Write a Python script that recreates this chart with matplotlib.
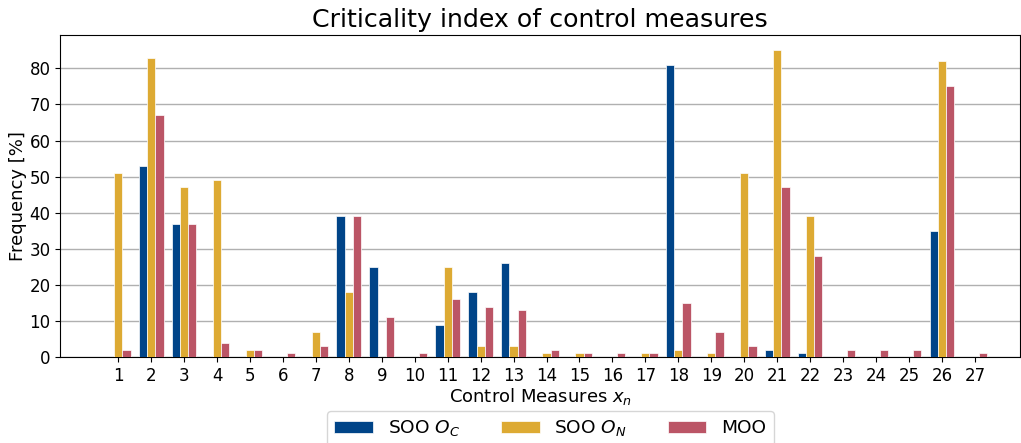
import numpy as np
import matplotlib
matplotlib.use('Agg')
import matplotlib.pyplot as plt

# Criticality data (frequency in %) per control measure
measures = np.arange(1, 28)
soo_oc = [0, 53, 37, 0, 0, 0, 0, 39, 25, 0, 9, 18, 26, 0, 0, 0, 0, 81, 0, 0, 2, 1, 0, 0, 0, 35, 0]
soo_on = [51, 83, 47, 49, 2, 0, 7, 18, 0, 0, 25, 3, 3, 1, 1, 0, 1, 2, 1, 51, 85, 39, 0, 0, 0, 82, 0]
moo = [2, 67, 37, 4, 2, 1, 3, 39, 11, 1, 16, 14, 13, 2, 1, 1, 1, 15, 7, 3, 47, 28, 2, 2, 2, 75, 1]

series = [('SOO $O_C$', soo_oc, '#004488'),
          ('SOO $O_N$', soo_on, '#DDAA33'),
          ('MOO', moo, '#BB5566')]

fig = plt.figure(figsize=(10.21, 4.43), dpi=100)
ax = fig.add_axes([0.059, 0.194, 0.94, 0.727])

w = 0.25
for i, (label, vals, color) in enumerate(series):
    ax.bar(measures + (i - 1) * w, vals, width=w, color=color,
           edgecolor='white', linewidth=0.5, label=label, zorder=3)

ax.set_xlim(-0.76, 28.37)
ax.set_ylim(0, 89.25)
ax.set_xticks(measures)
ax.set_yticks(np.arange(0, 90, 10))
ax.tick_params(labelsize=12)
ax.grid(axis='y', color='#b0b0b0', linewidth=1, zorder=0)
ax.set_axisbelow(True)

ax.set_title('Criticality index of control measures', fontsize=18.2)
ax.set_xlabel('Control Measures $x_n$', fontsize=13, labelpad=1)
ax.set_ylabel('Frequency [%]', fontsize=13, labelpad=2)

fig.legend(loc='upper center', bbox_to_anchor=(0.539, 0.072), ncol=3,
           fontsize=13.3, handlelength=2.1, columnspacing=2.2, borderaxespad=0)

fig.savefig('out.png', dpi=100)
